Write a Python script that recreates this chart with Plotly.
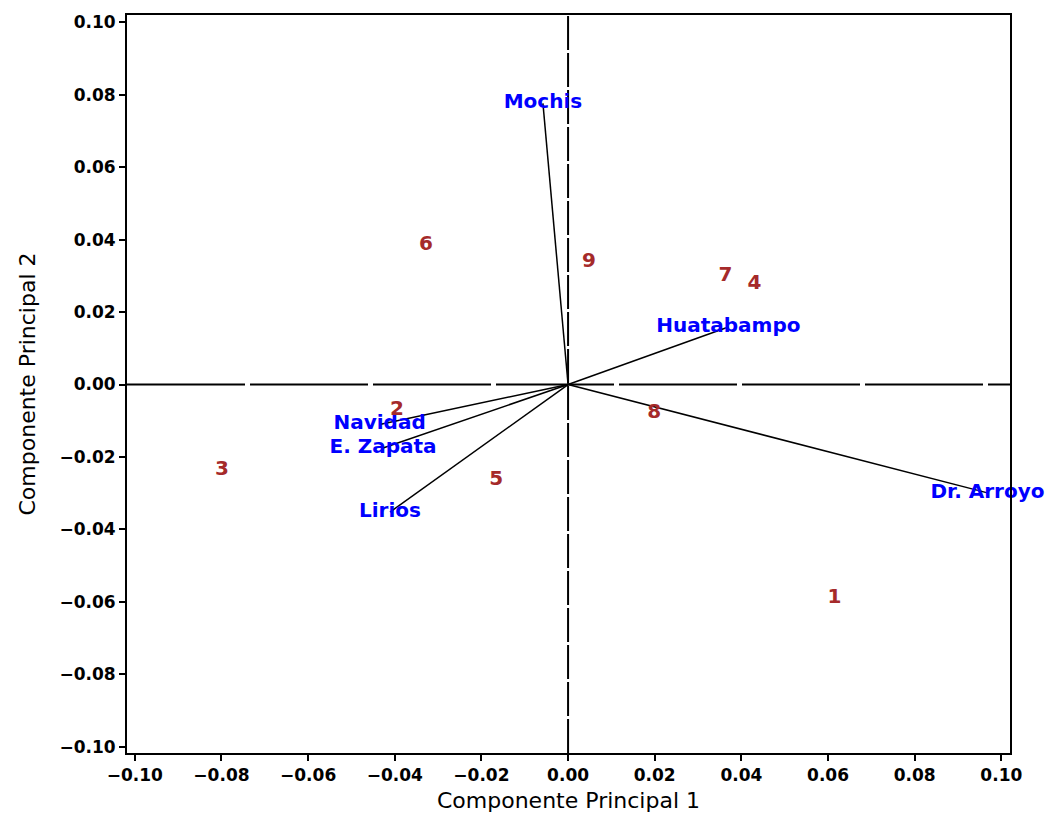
import plotly.graph_objects as go

# Observations (scores)
obs_labels = ["1", "2", "3", "4", "5", "6", "7", "8", "9"]
obs_pc1 = [0.0615, -0.0395, -0.0799, 0.0430, -0.0166, -0.0328, 0.0363, 0.0199, 0.0048]
obs_pc2 = [-0.0589, -0.0070, -0.0236, 0.0277, -0.0263, 0.0385, 0.0299, -0.0079, 0.0338]

# Variable loadings (vectors)
var_labels = ["Mochis", "Huatabampo", "Dr. Arroyo", "Navidad", "E. Zapata", "Lirios"]
var_pc1 = [-0.0058, 0.0370, 0.0968, -0.0435, -0.0427, -0.0411]
var_pc2 = [0.0776, 0.0159, -0.0299, -0.0110, -0.0175, -0.0352]

tick_vals = [-0.10, -0.08, -0.06, -0.04, -0.02, 0.00, 0.02, 0.04, 0.06, 0.08, 0.10]

fig = go.Figure()

# vectors from origin
vx, vy = [], []
for a, b in zip(var_pc1, var_pc2):
    vx += [0, a, None]
    vy += [0, b, None]
fig.add_trace(go.Scatter(x=vx, y=vy, mode="lines",
                         line=dict(color="black", width=1.5),
                         hoverinfo="skip", showlegend=False))

# reference lines
fig.add_shape(type="line", xref="x", yref="paper", x0=0, x1=0, y0=0, y1=1,
              line=dict(color="black", width=2, dash="34px,3px"), layer="below")
fig.add_shape(type="line", xref="paper", yref="y", x0=0, x1=1, y0=0, y1=0,
              line=dict(color="black", width=2, dash="118px,5px"), layer="below")

# variable labels
fig.add_trace(go.Scatter(x=var_pc1, y=var_pc2, mode="text", text=var_labels,
                         textposition="middle center",
                         textfont=dict(family="DejaVu Sans", size=20, color="#0000FF",
                                       weight="bold"),
                         cliponaxis=False, showlegend=False))

# observation labels
fig.add_trace(go.Scatter(x=obs_pc1, y=obs_pc2, mode="text", text=obs_labels,
                         textposition="middle center",
                         textfont=dict(family="DejaVu Sans", size=20, color="#A52A2A",
                                       weight="bold"),
                         cliponaxis=False, showlegend=False))

axis_common = dict(
    showgrid=False, zeroline=False, showline=True, linecolor="black", linewidth=2,
    mirror=True, ticks="outside", ticklen=6, tickwidth=2, tickcolor="black",
    tickvals=tick_vals, tickformat=".2f", automargin=False,
    tickfont=dict(family="DejaVu Sans", size=17, color="black", weight="bold"),
)

fig.update_xaxes(range=[-0.1018, 0.102],
                 title=dict(text="Componente Principal 1", standoff=8,
                            font=dict(family="DejaVu Sans", size=22, color="black")),
                 **axis_common)
fig.update_yaxes(range=[-0.1017, 0.102],
                 title=dict(text="Componente Principal 2", standoff=18,
                            font=dict(family="DejaVu Sans", size=22, color="black")),
                 **axis_common)

fig.update_layout(width=1057, height=813,
                  margin=dict(l=127, r=47, t=15, b=60),
                  paper_bgcolor="white", plot_bgcolor="white")

fig.write_html("out.html")
